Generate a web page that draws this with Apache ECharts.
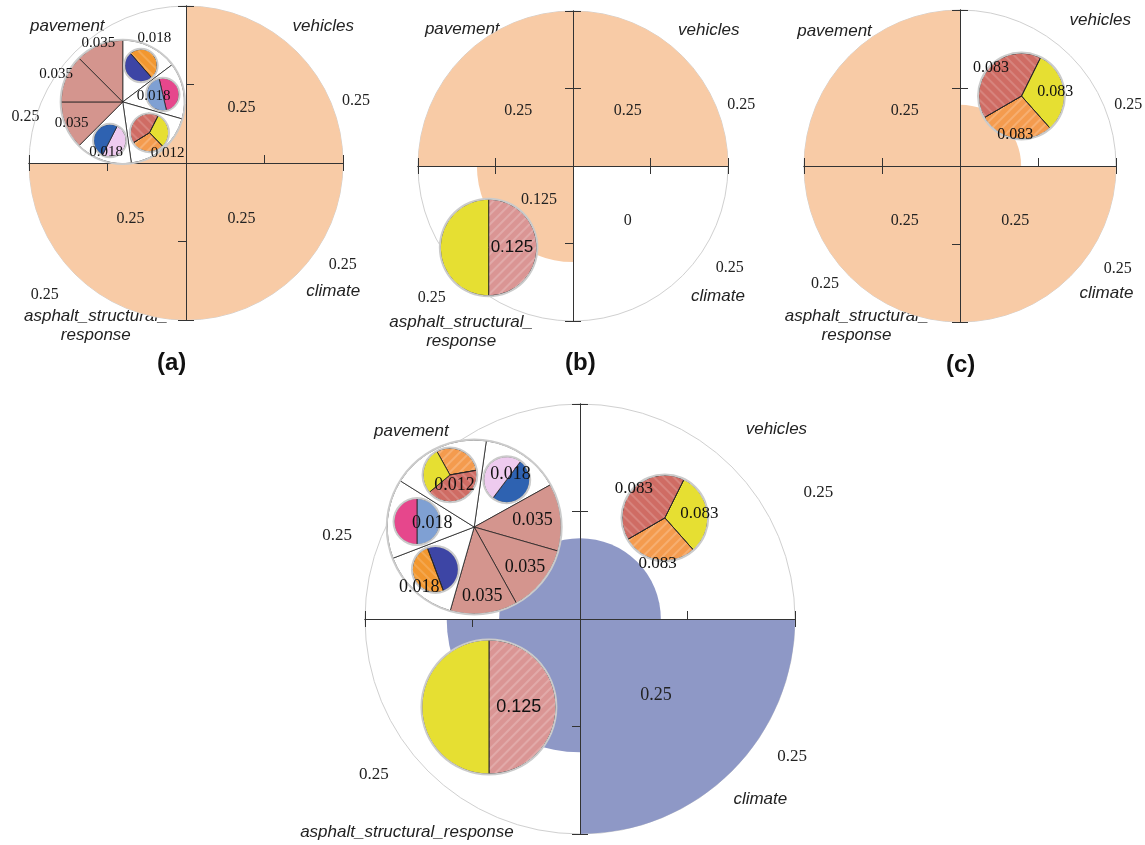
<!DOCTYPE html>
<html><head><meta charset="utf-8">
<script src="https://cdn.jsdelivr.net/npm/echarts@6/dist/echarts.min.js"></script>
<style>html,body{margin:0;padding:0;background:#fff}#c{width:1145px;height:845px}</style>
</head><body><div id="c"></div>
<script>
// ---------------- DATA ----------------
const categories = ['vehicles', 'climate', 'asphalt_structural_response', 'pavement'];
// sector radius (radius axis 0..0.25)
const sectorA = [0.25, 0.25, 0.25, 0.094];
const sectorB = [0.25, 0, 0.155, 0.25];
const sectorC = [0.098, 0.25, 0.25, 0.25];
const sectorD = [0.094, 0.25, 0.155, 0.094];
// text printed inside each sector
const sectorTextA = ['0.25', '0.25', '0.25', ''];
const sectorTextB = ['0.25', '0', '0.125', '0.25'];
const sectorTextC = ['', '0.25', '0.25', '0.25'];
const sectorTextD = ['', '0.25', '', ''];
// weight printed outside the circle
const weightA = ['0.25', '0.25', '0.25', '0.25'];
const weightB = ['0.25', '0.25', '0.25', ''];
const weightC = ['0.25', '0.25', '0.25', ''];
const weightD = ['0.25', '0.25', '0.25', '0.25'];
const panelLetters = ['(a)', '(b)', '(c)'];

// pavement pie slices (angular share), clockwise
const pavSizeA = [53, 53, 66, 53, 45, 45, 45];
const pavTextA = ['0.018', '0.018', '0.012', '0.018', '0.035', '0.035', '0.035'];
const pavKindA = ['navyOrange', 'steelPink', 'three', 'lavBlue', 'fill', 'fill', 'fill'];
const pavSizeD = [53, 45, 45, 45, 53, 53, 66];
const pavTextD = ['0.018', '0.035', '0.035', '0.035', '0.018', '0.018', '0.012'];
const pavKindD = ['lavBlue', 'fill', 'fill', 'fill', 'navyOrange', 'steelPink', 'three'];
// children pies
const twoPartSize = [50, 50];
const threePartSizeA = [109, 102, 149];
const threePartSizeD = [109, 150, 101];
// vehicles pie: yellow, orange, red
const vehSize = [112, 101.5, 146.5];
const vehText = ['0.083', '0.083', '0.083'];
// asphalt pie: salmon, yellow
const asphSize = [180, 180];
const asphText = ['0.125', ''];

// ---------------- STYLE / LAYOUT ----------------
const SERIF = '"Liberation Serif", "DejaVu Serif", serif';
const SANS = '"Liberation Sans", Arial, sans-serif';
const C = {
  peach: '#f8cba6', blue: '#8e98c6', salmon: '#d4958e', yellow: '#e6df32', orange: '#f49b4e',
  red: '#cf6c64', navy: '#3d45a5', orange2: '#f2972f', steel: '#7fa0d3', pink: '#e6478c',
  blue2: '#2e62b1', lav: '#eecbef', asph: '#da9594', white: '#ffffff'
};
const stripes = { symbol: 'rect', symbolSize: 1, dashArrayX: [1, 0], dashArrayY: [1.2, 5], rotation: -Math.PI / 4, color: 'rgba(255,255,255,0.2)' };
const stripes2 = Object.assign({}, stripes, { rotation: Math.PI / 4, color: 'rgba(255,255,255,0.16)' });
const decalOf = { red: stripes2, orange: stripes, asph: stripes, orange2: stripes2 };

const option = {
  animation: false, backgroundColor: '#fff',
  title: [], polar: [], angleAxis: [], radiusAxis: [], grid: [], xAxis: [], yAxis: [], series: []
};

function toRad(a) { return a * Math.PI / 180; }
function offset(cx, cy, ang, dist) { return [cx + dist * Math.cos(toRad(ang)), cy - dist * Math.sin(toRad(ang))]; }

// labelAt: per-slice label distance as a fraction of the pie radius
function addPie(center, r, sizes, colors, startAngle, z, texts, labelAt, labelFont) {
  option.series.push({
    type: 'pie', center: center, radius: [0, r], startAngle: startAngle, silent: true, z: z,
    label: { show: false }, labelLine: { show: false },
    data: sizes.map((v, i) => ({ value: v, itemStyle: { color: C[colors[i]], decal: decalOf[colors[i]], borderColor: '#222', borderWidth: 0.8 } }))
  });
  option.series.push({
    type: 'pie', center: center, radius: [r - 0.6, r + 1.4], silent: true, z: z + 0.5,
    label: { show: false }, labelLine: { show: false },
    data: [{ value: 1, itemStyle: { color: '#cbcbcb' } }]
  });
  if (texts) {
    const factors = Array.from(new Set(labelAt));
    factors.forEach(f => {
      option.series.push({
        type: 'pie', center: center, radius: [0, r * 2 * f], startAngle: startAngle, silent: true, z: 20,
        avoidLabelOverlap: false, labelLine: { show: false },
        label: Object.assign({ show: true, position: 'inside', color: '#111',
          formatter: p => (labelAt[p.dataIndex] === f ? texts[p.dataIndex] : '') }, labelFont),
        data: sizes.map(v => ({ value: v, itemStyle: { color: 'rgba(0,0,0,0)', borderWidth: 0 } }))
      });
    });
  }
}

function midAngles(sizes, start) {
  const tot = sizes.reduce((a, b) => a + b, 0);
  let acc = 0;
  return sizes.map(v => { const m = start - (acc + v / 2) / tot * 360; acc += v; return m; });
}

function addChart(L, sectors, sectorText, weights, color, fontSizes) {
  const pm = option.polar.length;
  option.polar.push({ center: [L.cx, L.cy], radius: L.R });
  option.angleAxis.push({
    polarIndex: pm, type: 'category', data: categories, startAngle: 90, clockwise: true,
    axisLine: { show: true, lineStyle: { color: '#d0d0d0', width: 1 } }, axisTick: { show: false },
    axisLabel: { show: false }, splitLine: { show: false }
  });
  option.radiusAxis.push({ polarIndex: pm, type: 'value', min: 0, max: 0.25, show: false });
  const lblFont = { fontFamily: SERIF, fontSize: fontSizes.sector, color: '#222', rotate: 0 };
  option.series.push({
    type: 'bar', coordinateSystem: 'polar', polarIndex: pm, data: sectors, barCategoryGap: '0%', barGap: '-100%',
    itemStyle: { color: color }, silent: true, z: 2,
    label: Object.assign({ show: true, position: 'middle', formatter: p => (sectors[p.dataIndex] > 0 ? sectorText[p.dataIndex] : '') }, lblFont)
  });
  option.series.push({
    type: 'bar', coordinateSystem: 'polar', polarIndex: pm,
    data: sectors.map((v, i) => (v === 0 && sectorText[i] ? 0.25 : '-')), barCategoryGap: '0%', barGap: '-100%',
    itemStyle: { color: 'rgba(0,0,0,0)' }, silent: true, z: 2,
    label: Object.assign({ show: true, position: 'middle', formatter: p => sectorText[p.dataIndex] }, lblFont)
  });

  // label polar: one-degree bins around the chart for the category names and weights
  const pl = option.polar.length;
  option.polar.push({ center: [L.cx, L.cy], radius: L.R });
  const bins = [];
  for (let k = 0; k < 360; k++) bins.push('d' + k);
  const texts = {};
  function place(rich, pos) {
    const k = ((Math.round(pos[0]) % 360) + 360) % 360;
    const dx = pos[1] * Math.cos(toRad(pos[0])), dy = -pos[1] * Math.sin(toRad(pos[0]));
    texts[k] = rich;
    bins[k] = {
      value: 'd' + k,
      textStyle: { padding: [Math.max(0, 2 * dy), Math.max(0, -2 * dx), Math.max(0, -2 * dy), Math.max(0, 2 * dx)] }
    };
  }
  categories.forEach((c, i) => {
    if (weights[i]) place('{w|' + weights[i] + '}', L.weightPos[i]);
    place(L.nameText[i].split('\n').map(s => '{n|' + s + '}').join('\n'), L.namePos[i]);
  });
  option.angleAxis.push({
    polarIndex: pl, type: 'category', data: bins, startAngle: -0.5, clockwise: false,
    axisLine: { show: false }, axisTick: { show: false }, splitLine: { show: false },
    axisLabel: {
      show: true, interval: 0, margin: -L.R, formatter: (v, i) => texts[i] || '',
      rich: {
        w: { fontFamily: SERIF, fontSize: fontSizes.weight, color: '#222', lineHeight: fontSizes.weight + 2, align: 'center' },
        n: { fontFamily: SANS, fontSize: fontSizes.name, fontStyle: 'italic', color: '#222', lineHeight: fontSizes.name + 2, align: 'center' }
      }
    }
  });
  option.radiusAxis.push({ polarIndex: pl, type: 'value', min: 0, max: 1, show: false });

  // cross-hair axes (two grids: ticks on each side)
  [[true, L.ticks.xA, L.ticks.yA], [false, L.ticks.xB, L.ticks.yB]].forEach(([inside, tx, ty]) => {
    const gi = option.grid.length;
    option.grid.push({ left: L.cx - L.R, top: L.cy - L.R, width: 2 * L.R, height: 2 * L.R, containLabel: false });
    const common = {
      gridIndex: gi, type: 'value', min: -0.25, max: 0.25, z: 3,
      axisLine: { show: true, onZero: true, lineStyle: { color: '#333', width: 1 } },
      axisLabel: { show: false }, splitLine: { show: false }
    };
    option.xAxis.push(Object.assign({}, common, { axisTick: { show: true, inside: inside, length: 8, customValues: tx, lineStyle: { color: '#333' } } }));
    option.yAxis.push(Object.assign({}, common, { axisTick: { show: true, inside: inside, length: 8, customValues: ty, lineStyle: { color: '#333' } } }));
  });
}

const twoLine = ['vehicles', 'climate', 'asphalt_structural_\nresponse', 'pavement'];
const oneLine = categories;

const LA = { cx: 186, cy: 163, R: 157, nameText: twoLine,
  weightPos: [[20, 181], [-33, 187], [-137, 193], [164, 167]],
  namePos: [[45, 194], [-41, 195], [-119, 186], [131, 181]],
  ticks: { xA: [-0.25, 0.125, 0.25], xB: [-0.25, -0.125, 0.25], yA: [-0.25, 0.125, 0.25], yB: [-0.25, -0.125, 0.25] } };
const LB = { cx: 573, cy: 166, R: 155, nameText: twoLine,
  weightPos: [[20, 179], [-33, 187], [-137, 193], [0, 0]],
  namePos: [[45, 192], [-42, 195], [-124, 200], [129, 176]],
  ticks: { xA: [-0.25, -0.125, 0.125, 0.25], xB: [-0.25, -0.125, 0.125, 0.25], yA: [-0.25, 0.125, 0.25], yB: [-0.25, -0.125, 0.125, 0.25] } };
const LC = { cx: 960, cy: 166, R: 156, nameText: twoLine,
  weightPos: [[20, 179], [-33, 188], [-139, 179], [0, 0]],
  namePos: [[46, 202], [-41, 194], [-123, 190], [133, 184]],
  ticks: { xA: [-0.25, -0.125, 0.125, 0.25], xB: [-0.25, -0.125, 0.25], yA: [-0.25, 0.125, 0.25], yB: [-0.25, -0.125, 0.125, 0.25] } };
const LD = { cx: 580, cy: 619, R: 215, nameText: oneLine,
  weightPos: [[28, 270], [-33, 253], [-143, 258], [161, 257]],
  namePos: [[44, 273], [-45, 255], [-129, 275], [132, 252]],
  ticks: { xA: [-0.25, 0.125, 0.25], xB: [-0.25, -0.125, 0.25], yA: [-0.25, 0.125, 0.25], yB: [-0.25, -0.125, 0.125, 0.25] } };

const fsSmall = { sector: 16, weight: 16, name: 17 };
const fsBig = { sector: 18, weight: 17, name: 17 };
addChart(LA, sectorA, sectorTextA, weightA, C.peach, fsSmall);
addChart(LB, sectorB, sectorTextB, weightB, C.peach, fsSmall);
addChart(LC, sectorC, sectorTextC, weightC, C.peach, fsSmall);
addChart(LD, sectorD, sectorTextD, weightD, C.blue, fsBig);

// pavement pies with children
function addPavement(L, pl, sizes, texts, kinds, childCfg, labelAt, font) {
  const center = offset(L.cx, L.cy, pl.ang, pl.dist * L.R);
  const r = pl.rad * L.R;
  const colors = kinds.map(k => (k === 'fill' ? 'salmon' : 'white'));
  addPie(center, r, sizes, colors, pl.start, 4, texts, labelAt, font);
  const mids = midAngles(sizes, pl.start);
  kinds.forEach((k, i) => {
    if (k === 'fill') return;
    const cfg = childCfg[k];
    const cc = offset(center[0], center[1], mids[i], 0.66 * r);
    addPie(cc, (cfg.size.length === 3 ? 0.31 : 0.265) * r, cfg.size, cfg.colors, cfg.start, 6, null);
  });
}
const childA = {
  navyOrange: { size: twoPartSize, colors: ['orange2', 'navy'], start: 131 },
  steelPink: { size: twoPartSize, colors: ['pink', 'steel'], start: 103 },
  three: { size: threePartSizeA, colors: ['yellow', 'orange', 'red'], start: 63 },
  lavBlue: { size: twoPartSize, colors: ['lav', 'blue2'], start: 63 }
};
const childD = {
  lavBlue: { size: twoPartSize, colors: ['blue2', 'lav'], start: 53 },
  navyOrange: { size: twoPartSize, colors: ['navy', 'orange2'], start: 110.5 },
  steelPink: { size: twoPartSize, colors: ['steel', 'pink'], start: 90 },
  three: { size: threePartSizeD, colors: ['orange', 'red', 'yellow'], start: 119 }
};
addPavement(LA, { ang: 136, dist: 0.56, rad: 0.393, start: 90 }, pavSizeA, pavTextA, pavKindA, childA,
  [1.1, 0.46, 1.06, 0.8, 0.85, 1.12, 0.98], { fontFamily: SERIF, fontSize: 15 });
addPavement(LD, { ang: 139, dist: 0.652, rad: 0.405, start: 82 }, pavSizeD, pavTextD, pavKindD, childD,
  [0.7, 0.64, 0.71, 0.77, 0.9, 0.45, 0.5], { fontFamily: SERIF, fontSize: 18 });

function addSimplePie(L, pl, sizes, colors, texts, labelAt, font) {
  const center = offset(L.cx, L.cy, pl.ang, pl.dist * L.R);
  addPie(center, pl.rad * L.R, sizes, colors, pl.start, 4, texts, labelAt, font);
}
addSimplePie(LB, { ang: 224, dist: 0.757, rad: 0.312, start: 90 }, asphSize, ['asph', 'yellow'], asphText, [0.42, 0.42], { fontFamily: SANS, fontSize: 17 });
addSimplePie(LC, { ang: 48.7, dist: 0.597, rad: 0.276, start: 63.6 }, vehSize, ['yellow', 'orange', 'red'], vehText, [0.72, 0.85, 0.9], { fontFamily: SERIF, fontSize: 16 });
addSimplePie(LD, { ang: 50, dist: 0.614, rad: 0.2, start: 63.6 }, vehSize, ['yellow', 'orange', 'red'], vehText, [0.74, 1.0, 0.92], { fontFamily: SERIF, fontSize: 17 });
addSimplePie(LD, { ang: 224, dist: 0.589, rad: 0.312, start: 90 }, asphSize, ['asph', 'yellow'], asphText, [0.4, 0.4], { fontFamily: SANS, fontSize: 18 });

// panel letters
[[157, 351], [565, 351], [946, 353]].forEach((p, i) => {
  option.title.push({ text: panelLetters[i], left: p[0], top: p[1], padding: 0,
    textStyle: { fontFamily: SANS, fontWeight: 'bold', fontSize: 24, color: '#111' } });
});

const chart = echarts.init(document.getElementById('c'), null, { renderer: 'canvas' });
chart.setOption(option);
</script></body></html>
